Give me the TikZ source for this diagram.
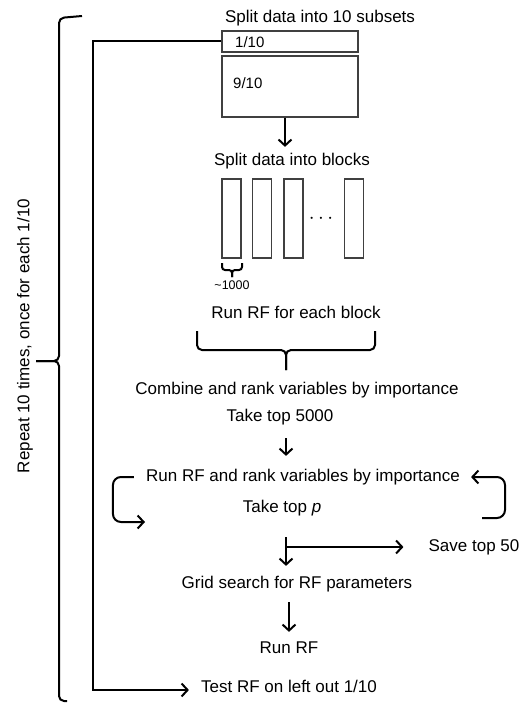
\documentclass[tikz,border=0pt]{standalone}
\usepackage{fontspec}
\setmainfont{Liberation Sans}
\usetikzlibrary{arrows.meta, positioning}
\tikzset{
>={Straight Barb[length=6pt,width=13pt]}, % open arrow heads
every node/.style={font=\fontsize{17}{20}\selectfont, inner sep=2pt},
flow/.style={->, line width=2pt}, % the arrows of the flow
bracket/.style={line width=2pt, rounded corners=5pt},
databox/.style={draw=black!75, line width=1.4pt, minimum width=136pt},
block/.style={draw=black!75, line width=1.4pt, minimum width=19pt, minimum height=79pt},
boxtext/.style={font=\fontsize{15}{17}\selectfont, anchor=west},
tinytext/.style={font=\fontsize{12.5}{14}\selectfont},
}
\begin{document}
\begin{tikzpicture}[x=1pt, y=-1pt]
    \useasboundingbox (0,0) rectangle (524,703);
    % split into 10
    \node (split10) at (320,18) {Split data into 10 subsets};
    \node[databox, minimum height=21pt] (one) at (290,41.5) {};
    \node[boxtext] (onelbl) at (233,42) {1/10};
    \node[databox, minimum height=61pt] (nine) at (290,86.5) {};
    \node[boxtext] (ninelbl) at (231,83) {9/10};
    % blocks
    \node (splitblk) at (292,161) {Split data into blocks};
    \node[block] (blk1) at (231.5,218.5) {};
    \node[block, right=10pt of blk1] (blk2) {};
    \node[block, right=11pt of blk2] (blk3) {};
    \node[block, right=40pt of blk3] (blk4) {};
    \node[font=\fontsize{22}{24}\selectfont] (dots) at (321,219) {$\cdots$};
    \node[tinytext] (size) at (232,285) {\textasciitilde1000};
    \node (runblk) at (296,312) {Run RF for each block};
    \node (combine) at (297,390) {Combine and rank variables by importance};
    \node (top5000) at (280,417) {Take top 5000};
    % iterate
    \node (runrank) at (303,477) {Run RF and rank variables by importance};
    \node (topp) at (282,508) {Take top \textit{p}};
    \node (save50) at (474,547) {Save top 50};
    \node (grid) at (297,584) {Grid search for RF parameters};
    \node (runrf) at (289,648) {Run RF};
    \node (test) at (289,686) {Test RF on left out 1/10};
    \node[rotate=90] (repeat) at (25,336) {Repeat 10 times, once for each 1/10};
    \coordinate (spine) at (286,0);
    \coordinate (branch) at (286,547);
    \coordinate (back) at (93,690);
    \coordinate (tip) at (36,361);

    \draw[flow, shorten >=4pt] ([xshift=-5pt]nine.south) -- ([xshift=-7pt]splitblk.north);
    \draw[flow, shorten <=11pt, shorten >=11pt] (top5000.south -| spine) -- (runrank.north -| spine);
    \draw[flow, shorten <=19pt, shorten >=8pt] (topp.south -| spine) -- (grid.north -| spine);
    \draw[flow, shorten >=23pt] (branch) -- (save50.west |- branch);
    \draw[flow, shorten <=8pt, shorten >=8pt] (grid.south -| runrf) -- (runrf.north);
    \draw[flow, shorten >=10pt] (one.west) -| (back) -- (back -| test.west);
    % loops beside the ranking
    \draw[flow, rounded corners=8pt] ([xshift=-10pt]runrank.west) -- ++(-21,0) |- (145,522);
    \draw[flow, rounded corners=8pt] (482,518) -- (505,518) |- ([xshift=9pt]runrank.east);
    % braces
    \draw[bracket] (197,331) -- (197,350) -- (286,350) -- (286,370);
    \draw[bracket] (375,331) -- (375,350) -- (286,350) -- (286,370);
    \draw[bracket, rounded corners=3pt] (222,263) -- (222,270) -- (232,270) -- (232,277);
    \draw[bracket, rounded corners=3pt] (242,263) -- (242,270) -- (232,270) -- (232,277);
    \draw[bracket] (82,16) -- (59,18) -- (59,361) -- (tip);
    \draw[bracket] (67,701) -- (59,701) -- (59,361) -- (tip);
\end{tikzpicture}
\end{document}
